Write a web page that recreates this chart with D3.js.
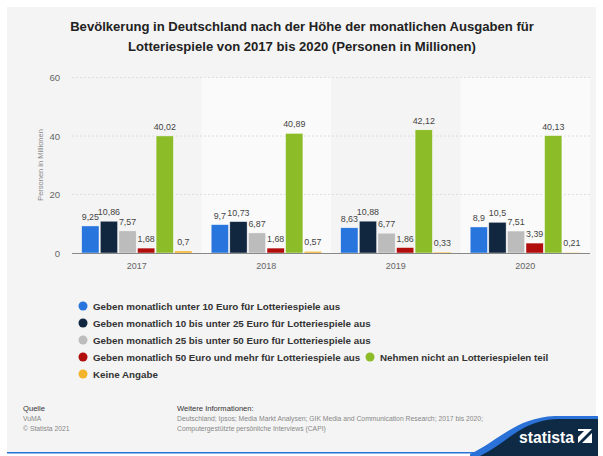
<!DOCTYPE html>
<html><head><meta charset="utf-8">
<script src="https://cdn.jsdelivr.net/npm/d3@7"></script>
<style>body{margin:0;background:#fff}svg{display:block;font-family:"Liberation Sans",Arial,sans-serif}</style>
</head><body>
<svg id="c" width="603" height="456"></svg>
<script>
const years = ["2017","2018","2019","2020"];
const seriesNames = [
  "Geben monatlich unter 10 Euro für Lotteriespiele aus",
  "Geben monatlich 10 bis unter 25 Euro für Lotteriespiele aus",
  "Geben monatlich 25 bis unter 50 Euro für Lotteriespiele aus",
  "Geben monatlich 50 Euro und mehr für Lotteriespiele aus",
  "Nehmen nicht an Lotteriespielen teil",
  "Keine Angabe"
];
const under10 = [9.25, 9.7, 8.63, 8.9];
const from10to25 = [10.86, 10.73, 10.88, 10.5];
const from25to50 = [7.57, 6.87, 6.77, 7.51];
const over50 = [1.68, 1.68, 1.86, 3.39];
const nonePlay = [40.02, 40.89, 42.12, 40.13];
const noAnswer = [0.7, 0.57, 0.33, 0.21];
const yTicks = [0, 20, 40, 60];
const colors = ["#2876dd","#11263f","#bcbcbc","#b10d0d","#8cbc27","#f3b42c"];

const seriesValues = [under10, from10to25, from25to50, over50, nonePlay, noAnswer];
const svg = d3.select("#c");
const fmt = v => String(v).replace(".", ",");

// panel
svg.append("rect").attr("x",7).attr("y",7).attr("width",589).attr("height",446).attr("fill","#f4f4f4");

// title
const title = svg.append("text").attr("text-anchor","middle").attr("font-weight","bold")
  .attr("font-size",13.1).attr("fill","#222");
title.append("tspan").attr("x",302).attr("y",31).text("Bevölkerung in Deutschland nach der Höhe der monatlichen Ausgaben für");
title.append("tspan").attr("x",302).attr("y",51).text("Lotteriespiele von 2017 bis 2020 (Personen in Millionen)");

const x0 = d3.scaleBand().domain(years).range([72, 590]).padding(0);
const x1 = d3.scaleBand().domain(d3.range(6)).range([9.7, x0.bandwidth()-9.5]).paddingInner(0.07);
const y = d3.scaleLinear().domain([0, 60]).range([253, 77.5]);

// alternating bands
svg.append("g").selectAll("rect").data(years).join("rect")
  .attr("x", d => x0(d)).attr("y", y(60)).attr("width", x0.bandwidth()).attr("height", y(0)-y(60))
  .attr("fill", (d,i) => i%2 ? "#fafafa" : "#f4f4f4");

// grid
svg.append("g").selectAll("line").data(yTicks.filter(t=>t>0)).join("line")
  .attr("x1",72).attr("x2",590).attr("y1",d=>y(d)).attr("y2",d=>y(d))
  .attr("stroke","#d8d8d8").attr("stroke-dasharray","2,2").attr("stroke-width",0.8);

// y axis
const yAxis = svg.append("g").attr("transform","translate(72,0)")
  .call(d3.axisLeft(y).tickValues(yTicks).tickSize(0).tickPadding(12));
yAxis.select(".domain").remove();
yAxis.selectAll("text").attr("font-size",9.5).attr("fill","#666").attr("font-family","Liberation Sans, Arial, sans-serif");

svg.append("text").attr("transform","translate(43,165) rotate(-90)").attr("text-anchor","middle")
  .attr("font-size",7.5).attr("fill","#888").text("Personen in Millionen");

// bars
const groups = svg.append("g").selectAll("g").data(years).join("g")
  .attr("transform", d => `translate(${x0(d)},0)`);
groups.each(function(yr, yi){
  const g = d3.select(this);
  const vals = seriesValues.map((s,si)=>({si, v:s[yi]}));
  g.selectAll("rect").data(vals).join("rect")
    .attr("x", d => x1(d.si)).attr("width", x1.bandwidth())
    .attr("y", d => y(d.v)).attr("height", d => y(0)-y(d.v))
    .attr("fill", d => colors[d.si]).attr("stroke","#ffffff").attr("stroke-width",0.6).attr("stroke-opacity",0.7);
  g.selectAll("text").data(vals).join("text")
    .attr("x", d => x1(d.si)+x1.bandwidth()/2).attr("y", d => y(d.v)-6)
    .attr("text-anchor","middle").attr("font-size",8.9).attr("fill","#444").text(d => fmt(d.v));
});

// x axis
svg.append("line").attr("x1",72).attr("x2",590).attr("y1",y(0)+0.5).attr("y2",y(0)+0.5)
  .attr("stroke","#888").attr("stroke-width",1.2);
const xAxis = svg.append("g").attr("transform",`translate(0,${y(0)})`)
  .call(d3.axisBottom(x0).tickSize(0).tickPadding(10));
xAxis.select(".domain").remove();
xAxis.selectAll("text").attr("font-size",9).attr("fill","#666").attr("font-family","Liberation Sans, Arial, sans-serif");

// legend
const legPos = [[83,306],[83,323],[83,340],[83,357],[370,357],[83,374]];
const leg = svg.append("g").selectAll("g").data(seriesNames).join("g")
  .attr("transform",(d,i)=>`translate(${legPos[i][0]},${legPos[i][1]})`);
leg.append("circle").attr("r",4.5).attr("fill",(d,i)=>colors[i]);
leg.append("text").attr("x",10).attr("y",3.5).attr("font-size",9.8).attr("font-weight","bold")
  .attr("fill","#333").text(d=>d);

// footer
const ft = svg.append("g");
ft.append("text").attr("x",23).attr("y",411).attr("font-size",7.6).attr("fill","#333").text("Quelle");
ft.append("text").attr("x",23).attr("y",421).attr("font-size",6.8).attr("fill","#888").text("VuMA");
ft.append("text").attr("x",23).attr("y",431).attr("font-size",6.8).attr("fill","#888").text("© Statista 2021");
ft.append("text").attr("x",177).attr("y",411).attr("font-size",7.6).attr("fill","#333").text("Weitere Informationen:");
ft.append("text").attr("x",177).attr("y",421).attr("font-size",6.8).attr("fill","#888").text("Deutschland; Ipsos; Media Markt Analysen; GIK Media and Communication Research; 2017 bis 2020;");
ft.append("text").attr("x",177).attr("y",431).attr("font-size",6.8).attr("fill","#888").text("Computergestützte persönliche Interviews (CAPI)");

// logo
svg.append("path").attr("d","M470,454 C500,440 515,418 555,416 L598,416 L598,456 L470,456 Z").attr("fill","#2a72d8");
svg.append("path").attr("d","M480,456 C508,442 522,420 558,419 L598,419 L598,456 Z").attr("fill","#0f2a44");
svg.append("text").attr("x",519).attr("y",443).attr("font-size",16).attr("font-weight","bold")
  .attr("textLength",55).attr("lengthAdjust","spacingAndGlyphs")
  .attr("fill","#fff").text("statista");
svg.append("rect").attr("x",578).attr("y",429).attr("width",14).attr("height",14).attr("fill","#fff");
svg.append("path").attr("d","M578,443 L592,429 L592,433 L582,443 Z M578,437 L584,431 L578,431 Z").attr("fill","#0f2a44");
svg.append("rect").attr("x",7).attr("y",452).attr("width",470).attr("height",1.5).attr("fill","#2a72d8");
</script>
</body></html>
